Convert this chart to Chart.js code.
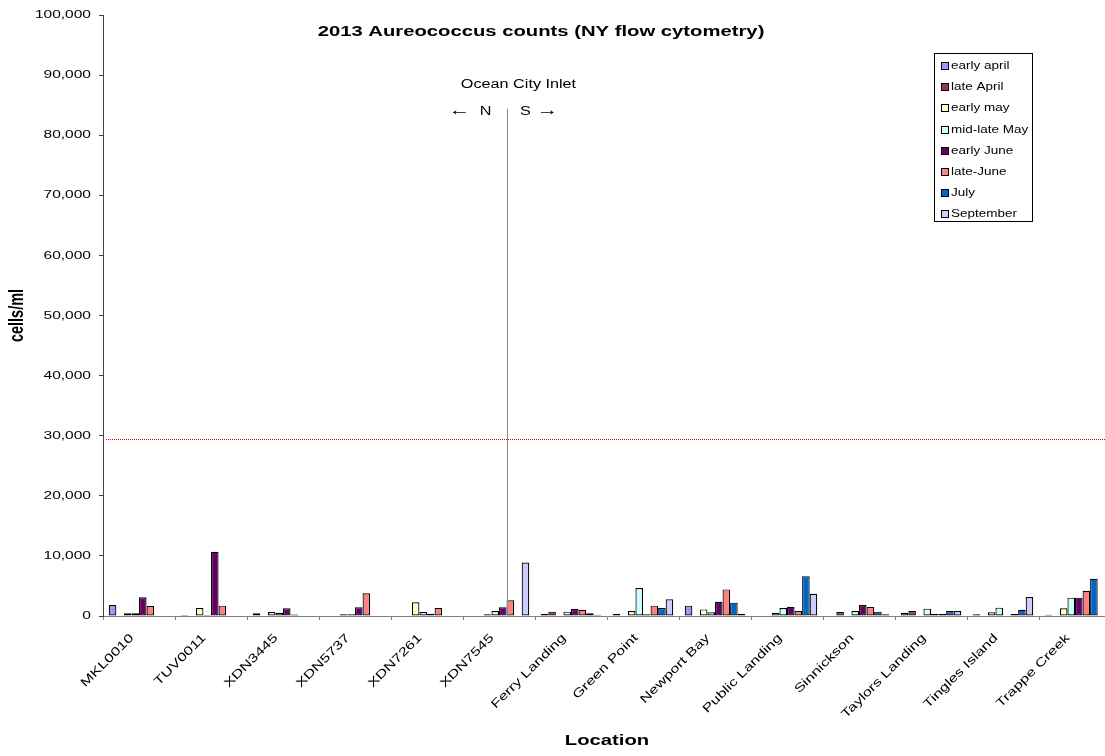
<!DOCTYPE html>
<html>
<head>
<meta charset="utf-8">
<script src="https://cdn.jsdelivr.net/npm/chart.js@4.4.1/dist/chart.umd.min.js"></script>
<style>
    html, body { margin: 0; padding: 0; background: #fff; overflow: hidden; }
    canvas { display: block; }
</style>
</head>
<body>
<canvas id="myChart" width="1125" height="756"></canvas>
<script>
// chart data
const locations = ['MKL0010', 'TUV0011', 'XDN3445', 'XDN5737', 'XDN7261', 'XDN7545', 'Ferry Landing',
    'Green Point', 'Newport Bay', 'Public Landing', 'Sinnickson', 'Taylors Landing', 'Tingles Island', 'Trappe Creek'];

const seriesNames = ['early april', 'late April', 'early may', 'mid-late May', 'early June', 'late-June', 'July', 'September'];
const seriesColors = ['#9999ff', '#993366', '#ffffcc', '#ccffff', '#660066', '#ff8080', '#0066cc', '#ccccff'];

const earlyApril = [1830, 150, 450, null, null, null, 390, 390, 1720, 100, null, 550, 280, 220];
const lateApril = [null, null, null, null, null, null, 720, null, null, 100, 660, 830, null, null];
const earlyMay = [450, 1330, 660, 280, 2270, 280, null, 830, 1100, 550, null, null, 610, 1280];
const midLateMay = [450, 150, 550, 280, 660, 830, 720, 4650, 610, 1330, 830, 1220, 1390, 3050];
const earlyJune = [3100, 10700, 1280, 1440, 390, 1440, 1160, 300, 2380, 1550, 1830, 390, null, 3050];
const lateJune = [1660, 1720, 250, 3770, 1330, 2600, 1050, 1720, 4430, 830, 1500, 330, 330, 4210];
const july = [null, null, null, null, null, null, 440, 1330, 2220, 6600, 720, 830, 1050, 6210];
const september = [null, null, null, null, null, 8900, 220, 2770, 390, 3710, 280, 830, 3160, null];

const seriesValues = [earlyApril, lateApril, earlyMay, midLateMay, earlyJune, lateJune, july, september];

const yMin = 0;
const yMax = 100000;
const yStep = 10000;

const thresholdValue = 29500;   // red dotted line
const inletIndex = 5.11;        // Ocean City Inlet divider, in category units
const inletTopValue = 84400;

const FONT = 'Arial, "Liberation Sans", sans-serif';
const TEXT_STRETCH = 1.35;

Chart.defaults.font.family = FONT;
Chart.defaults.color = '#000';

const canvas = document.getElementById('myChart');
const ctx = canvas.getContext('2d');

// the original renders its text wide, so stretch glyphs around the anchor point
const baseFillText = ctx.fillText;
ctx.fillText = function (text, x, y) {
    const m = this.getTransform();
    const vertical = Math.abs(m.b) > Math.abs(m.a) * 3;
    this.save();
    this.translate(x, y);
    if (vertical) {
        this.scale(1, TEXT_STRETCH);
    } else {
        this.scale(TEXT_STRETCH, 1);
    }
    baseFillText.call(this, text, 0, 0);
    this.restore();
};

const annotations = {
    id: 'annotations',
    afterDatasetsDraw(chart) {
        const c = chart.ctx;
        const xs = chart.scales.x;
        const ys = chart.scales.y;
        const area = chart.chartArea;

        c.save();
        // threshold line
        const ty = Math.round(ys.getPixelForValue(thresholdValue)) + 0.5;
        c.strokeStyle = '#ff0000';
        c.lineWidth = 1;
        c.setLineDash([1, 1]);
        c.beginPath();
        c.moveTo(area.left + 3, ty);
        c.lineTo(area.right, ty);
        c.stroke();
        c.setLineDash([]);

        // inlet divider
        const lx = Math.round(xs.getPixelForValue(inletIndex)) + 0.5;
        c.strokeStyle = '#8c8c8c';
        c.beginPath();
        c.moveTo(lx, ys.getPixelForValue(inletTopValue));
        c.lineTo(lx, area.bottom);
        c.stroke();

        c.fillStyle = '#000';
        c.textBaseline = 'middle';
        c.textAlign = 'center';
        c.font = '12px ' + FONT;
        c.fillText('Ocean City Inlet', lx + 11, 85);
        c.fillText('N', lx - 22, 112);
        c.fillText('S', lx + 18, 112);
        c.font = 'bold 16px ' + FONT;
        c.fillText('\u2190', lx - 48, 111);
        c.fillText('\u2192', lx + 40, 111);

        // chart title
        c.font = 'bold 15px ' + FONT;
        c.fillText('2013 Aureococcus counts (NY flow cytometry)', 541, 32);

        // legend
        c.fillStyle = '#fff';
        c.strokeStyle = '#000';
        c.fillRect(934.5, 53.5, 98, 168);
        c.strokeRect(934.5, 53.5, 98, 168);
        c.font = '10px ' + FONT;
        c.textAlign = 'left';
        chart.data.datasets.forEach(function (ds, i) {
            const y = Math.round(66 + i * 21.2);
            c.fillStyle = ds.backgroundColor;
            c.fillRect(941, y - 4, 8, 8);
            c.strokeRect(941.5, y - 3.5, 7, 7);
            c.fillStyle = '#000';
            c.fillText(ds.label, 951, y);
        });
        c.restore();
    }
};

const myChart = new Chart(ctx, {
    type: 'bar',
    data: {
        labels: locations,
        datasets: seriesNames.map((name, i) => ({
            label: name,
            data: seriesValues[i],
            backgroundColor: seriesColors[i],
            borderColor: '#000',
            borderWidth: 1.2,
            borderSkipped: false,
            categoryPercentage: 0.84,
            barPercentage: 1.0
        }))
    },
    options: {
        responsive: false,
        animation: false,
        devicePixelRatio: 1,
        layout: {
            padding: { top: 15, right: 14, left: 0, bottom: 0 }
        },
        plugins: {
            legend: { display: false },
            title: { display: false },
            tooltip: { enabled: false }
        },
        scales: {
            x: {
                grid: { drawOnChartArea: false, tickLength: 4, color: '#808080', offset: true },
                border: { color: '#808080' },
                ticks: {
                    autoSkip: false,
                    minRotation: 45,
                    maxRotation: 45,
                    labelOffset: -7,
                    padding: 11,
                    font: { size: 12 }
                },
                title: {
                    display: true,
                    text: 'Location',
                    font: { size: 15, weight: 'bold' },
                    padding: { top: 0, bottom: 6 }
                },
                afterFit: function (scale) { scale.height = 140; }
            },
            y: {
                min: yMin,
                max: yMax,
                grid: { drawOnChartArea: false, tickLength: 4, color: '#404040' },
                border: { color: '#404040' },
                ticks: {
                    stepSize: yStep,
                    padding: 8,
                    font: { size: 11.5 },
                    callback: v => v.toLocaleString('en-US')
                },
                title: {
                    display: true,
                    text: 'cells/ml',
                    font: { size: 14.5, weight: 'bold' },
                    padding: { top: 9, bottom: 0 }
                },
                afterFit: function (scale) { scale.width = 103; }
            }
        }
    },
    plugins: [annotations]
});
</script>
</body>
</html>
